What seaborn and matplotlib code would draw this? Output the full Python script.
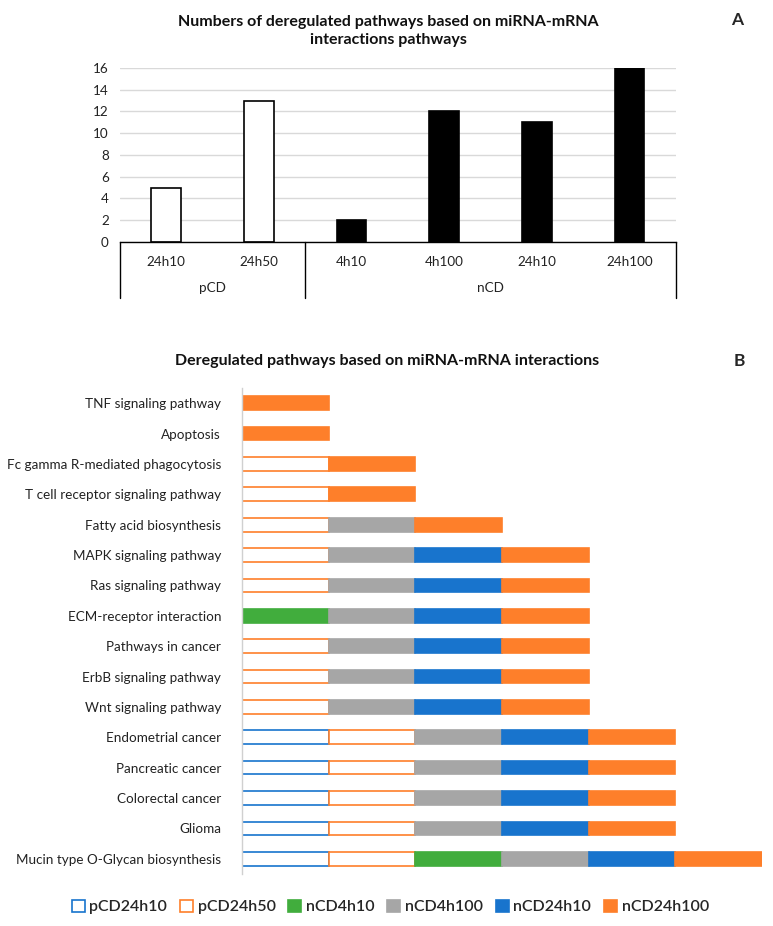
import matplotlib
matplotlib.use('Agg')
import matplotlib.pyplot as plt
from matplotlib.patches import Patch
import matplotlib.transforms as mtransforms
import seaborn as sns
import pandas as pd
import numpy as np

# Panel A data
groups = ['pCD', 'pCD', 'nCD', 'nCD', 'nCD', 'nCD']
times = ['24h10', '24h50', '4h10', '4h100', '24h10', '24h100']
counts = [5, 13, 2, 12, 11, 16]

# Panel B data (1 = pathway deregulated in that condition)
pathways = ['TNF signaling pathway', 'Apoptosis', 'Fc gamma R-mediated phagocytosis',
            'T cell receptor signaling pathway', 'Fatty acid biosynthesis',
            'MAPK signaling pathway', 'Ras signaling pathway', 'ECM-receptor interaction',
            'Pathways in cancer', 'ErbB signaling pathway', 'Wnt signaling pathway',
            'Endometrial cancer', 'Pancreatic cancer', 'Colorectal cancer', 'Glioma',
            'Mucin type O-Glycan biosynthesis']
conditions = ['pCD24h10', 'pCD24h50', 'nCD4h10', 'nCD4h100', 'nCD24h10', 'nCD24h100']
pCD24h10 = [0, 0, 0, 0, 0, 0, 0, 0, 0, 0, 0, 1, 1, 1, 1, 1]
pCD24h50 = [0, 0, 1, 1, 1, 1, 1, 0, 1, 1, 1, 1, 1, 1, 1, 1]
nCD4h10 = [0, 0, 0, 0, 0, 0, 0, 1, 0, 0, 0, 0, 0, 0, 0, 1]
nCD4h100 = [0, 0, 0, 0, 1, 1, 1, 1, 1, 1, 1, 1, 1, 1, 1, 1]
nCD24h10 = [0, 0, 0, 0, 0, 1, 1, 1, 1, 1, 1, 1, 1, 1, 1, 1]
nCD24h100 = [1, 1, 1, 1, 1, 1, 1, 1, 1, 1, 1, 1, 1, 1, 1, 1]

face = {'pCD24h10': 'white', 'pCD24h50': 'white', 'nCD4h10': '#41AD3D',
        'nCD4h100': '#A6A6A6', 'nCD24h10': '#1874CD', 'nCD24h100': '#FE7F2A'}
edge = {'pCD24h10': '#1874CD', 'pCD24h50': '#FE7F2A', 'nCD4h10': '#41AD3D',
        'nCD4h100': '#A6A6A6', 'nCD24h10': '#1874CD', 'nCD24h100': '#FE7F2A'}

sns.set_theme(style='white')
plt.rcParams['font.family'] = ['Lato', 'DejaVu Sans']

fig = plt.figure(figsize=(7.73, 9.26), dpi=100)

# ---- Panel A ----
axA = fig.add_axes([0.155, 0.7387, 0.7195, 0.1879])
dfA = pd.DataFrame({'key': [g + t for g, t in zip(groups, times)], 'count': counts, 'group': groups})
sns.barplot(data=dfA, x='key', y='count', hue='group', palette={'pCD': 'white', 'nCD': 'black'},
            edgecolor='black', linewidth=1.2, width=0.32, dodge=False, legend=False, ax=axA)
axA.set_ylim(0, 16)
axA.set_xlim(-0.5, 5.5)
axA.set_yticks(range(0, 17, 2))
axA.yaxis.grid(True, color='#D9D9D9', linewidth=1)
axA.set_axisbelow(True)
axA.set_xticks(range(6))
axA.set_xticklabels(times)
axA.tick_params(axis='x', length=0, pad=10, labelsize=9.7, colors='#222222')
axA.tick_params(axis='y', length=0, pad=8, labelsize=9.7, colors='#222222')
axA.set_xlabel('')
axA.set_ylabel('')
for s in ['left', 'right', 'top']:
    axA.spines[s].set_visible(False)
axA.spines['bottom'].set_color('black')
axA.spines['bottom'].set_linewidth(1)

trans = mtransforms.blended_transform_factory(axA.transData, axA.transAxes)
for xb in [-0.5, 1.5, 5.5]:
    axA.plot([xb, xb], [0, -0.322], color='black', lw=1, transform=trans, clip_on=False)
axA.text(0.5, -0.265, 'pCD', transform=trans, ha='center', va='center', fontsize=9.7, color='#222222')
axA.text(3.5, -0.265, 'nCD', transform=trans, ha='center', va='center', fontsize=9.7, color='#222222')

fig.text(0.502, 1 - 31 / 926, 'Numbers of deregulated pathways based on miRNA-mRNA\ninteractions pathways',
         ha='center', va='center', fontsize=11.5, fontweight='bold', linespacing=1.35, color='#111111')
fig.text(0.953, 1 - 20 / 926, 'A', ha='center', va='center', fontsize=12.5, fontweight='bold')

# ---- Panel B ----
axB = fig.add_axes([0.313, 0.0562, 0.6728, 0.5248])
dfB = pd.DataFrame({'pCD24h10': pCD24h10, 'pCD24h50': pCD24h50, 'nCD4h10': nCD4h10,
                    'nCD4h100': nCD4h100, 'nCD24h10': nCD24h10, 'nCD24h100': nCD24h100},
                   index=pathways)
ypos = np.arange(len(pathways))
left = np.zeros(len(pathways))
for c in conditions:
    vals = dfB[c].values
    mask = vals > 0
    axB.barh(ypos[mask], vals[mask], left=left[mask], height=0.45,
             color=face[c], edgecolor=edge[c], linewidth=1.2)
    left = left + vals
axB.set_ylim(len(pathways) - 0.5, -0.5)
axB.set_xlim(0, 6)
axB.set_yticks(ypos)
axB.set_yticklabels(pathways)
axB.set_xticks([])
axB.tick_params(axis='y', length=0, pad=15, labelsize=9.7, colors='#222222')
for s in ['right', 'top', 'bottom']:
    axB.spines[s].set_visible(False)
axB.spines['left'].set_color('#D0D0D0')
axB.spines['left'].set_linewidth(1)

fig.text(0.501, 1 - 361 / 926, 'Deregulated pathways based on miRNA-mRNA interactions',
         ha='center', va='center', fontsize=11.5, fontweight='bold', color='#111111')
fig.text(0.957, 1 - 361 / 926, 'B', ha='center', va='center', fontsize=12.5, fontweight='bold')

handles = [Patch(facecolor=face[c], edgecolor=edge[c], linewidth=1.2, label=c) for c in conditions]
fig.legend(handles=handles, loc='center', bbox_to_anchor=(0.505, 1 - 907 / 926), ncol=6,
           frameon=False, handlelength=0.8, handleheight=0.8,
           handletextpad=0.3, columnspacing=0.8, prop={'size': 11.5, 'weight': 'semibold'})

fig.savefig('out.png', dpi=100)
